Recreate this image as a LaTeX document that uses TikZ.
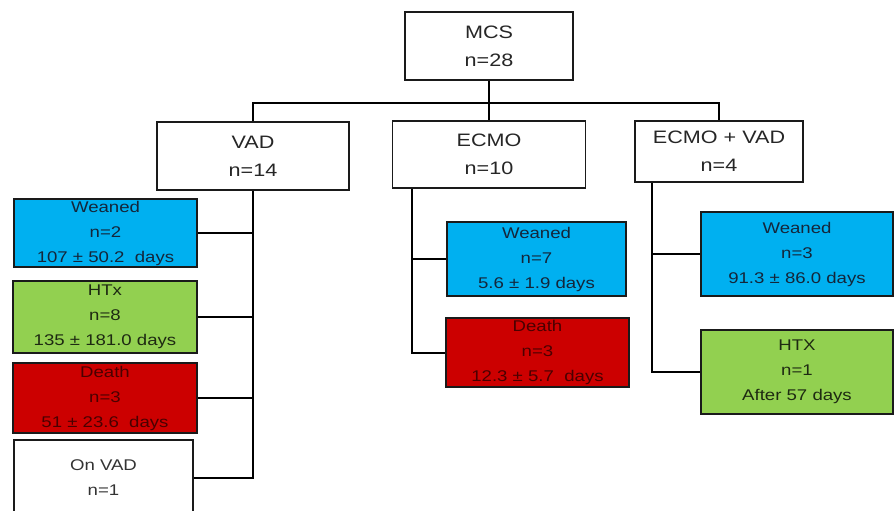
\documentclass[tikz,border=0pt]{standalone}
\usepackage{fontspec}
\newfontfamily\boxfont[FakeStretch=1.2]{Liberation Sans}
\definecolor{wblue}{HTML}{00B0F0}
\definecolor{hgreen}{HTML}{92D050}
\definecolor{dred}{HTML}{CC0000}
\definecolor{redtext}{HTML}{4A0000}
\definecolor{bluetext}{HTML}{14263A}
\definecolor{greentext}{HTML}{1E2A12}
\definecolor{edge}{HTML}{1A1A1A}
\tikzset{
  topbox/.style={draw=edge, line width=1.5pt, fill=white, inner sep=0pt, align=center,
    font=\boxfont\fontsize{18}{28}\selectfont, text=black!85},
  leafbox/.style={draw=edge, line width=1.5pt, inner sep=0pt, align=center,
    font=\boxfont\fontsize{15.5}{25}\selectfont},
  weaned/.style={leafbox, fill=wblue, text=bluetext},
  htx/.style={leafbox, fill=hgreen, text=greentext},
  death/.style={leafbox, fill=dred, text=redtext},
  onvad/.style={leafbox, fill=white, text=black!80},
  conn/.style={line width=2pt, draw=black},
  trunk/.style={line width=2.6pt, draw=black}
}
\begin{document}
\begin{tikzpicture}[x=1pt,y=-1pt]
\useasboundingbox (0,0) rectangle (894,511);
\clip (0,0) rectangle (894,511);
\fill[white] (0,0) rectangle (894,511);

% top level
\node[topbox, minimum width=168pt, minimum height=68pt] (mcs) at (489,46) {MCS\\n=28};
\node[topbox, minimum width=192pt, minimum height=68pt] (vad) at (253,156) {VAD\\n=14};
\node[topbox, minimum width=193pt, minimum height=67pt] (ecmo) at (489,154.5) {ECMO\\n=10};
\node[topbox, minimum width=168pt, minimum height=61pt] (ev) at (719,151.5) {ECMO + VAD\\n=4};

% VAD leaves
\node[weaned, minimum width=183pt, minimum height=68pt] (w1) at (105.5,233) {Weaned\\n=2\\107 ± 50.2\ \ days};
\node[htx, minimum width=184pt, minimum height=72pt] (h1) at (105,317) {HTx\\n=8\\135 ± 181.0 days};
\node[death, minimum width=184pt, minimum height=70pt] (d1) at (105,398) {Death\\n=3\\51 ± 23.6\ \ days};
\node[onvad, minimum width=179pt, minimum height=76pt] (o1) at (103.5,478) {On VAD\\n=1};

% ECMO leaves
\node[weaned, minimum width=179pt, minimum height=74pt] (w2) at (536.5,259) {Weaned\\n=7\\5.6 ± 1.9 days};
\node[death, minimum width=183pt, minimum height=69pt] (d2) at (537.5,352.5) {Death\\n=3\\12.3 ± 5.7\ \ days};

% ECMO + VAD leaves
\node[weaned, minimum width=192pt, minimum height=84pt] (w3) at (797,254) {Weaned\\n=3\\91.3 ± 86.0 days};
\node[htx, minimum width=192pt, minimum height=84pt] (h3) at (797,372) {HTX\\n=1\\After 57 days};

% top connectors
\draw[trunk] (mcs.south) -- (ecmo.north);
\draw[conn] (vad.north) -- ++(0,-18) -| (ev.north);

% VAD branch
\draw[trunk] (vad.south) -- (vad.south |- o1.east) -- (o1.east);
\draw[conn] (vad.south |- w1.east) -- (w1.east);
\draw[conn] (vad.south |- h1.east) -- (h1.east);
\draw[conn] (vad.south |- d1.east) -- (d1.east);

% ECMO branch
\coordinate (et) at ([xshift=20pt]ecmo.south west);
\draw[conn] (et) |- (d2.west);
\draw[conn] (et |- w2.west) -- (w2.west);

% ECMO + VAD branch
\coordinate (evt) at ([xshift=18pt]ev.south west);
\draw[conn] (evt) |- (h3.west);
\draw[conn] (evt |- w3.west) -- (w3.west);
\end{tikzpicture}
\end{document}
